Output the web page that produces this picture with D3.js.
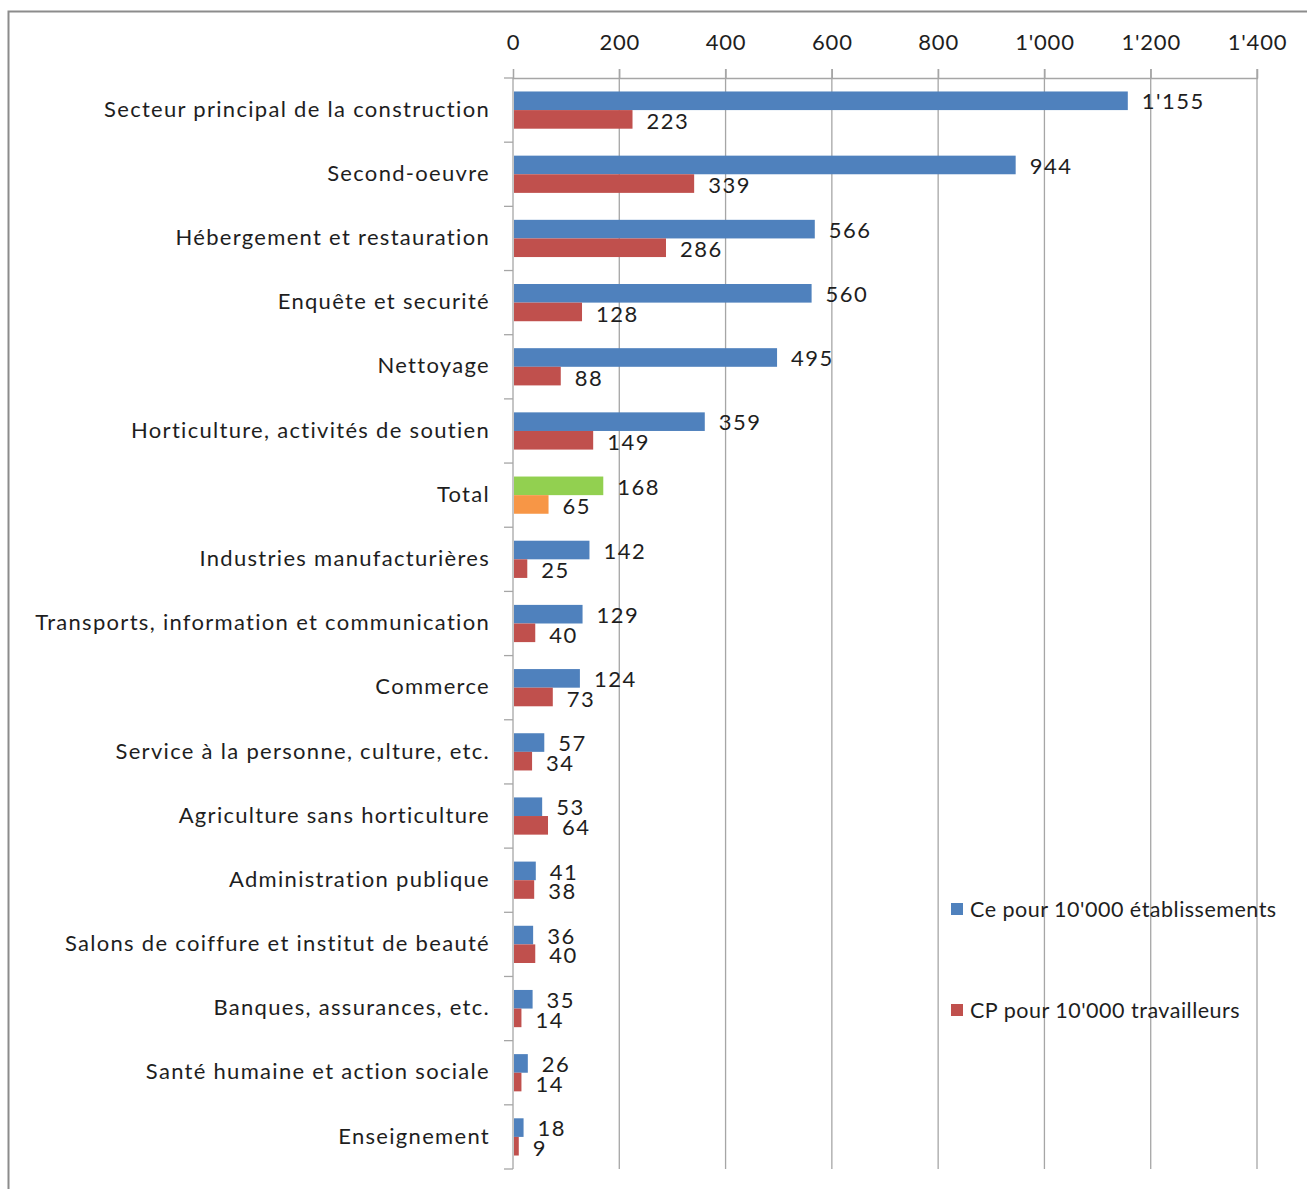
<!DOCTYPE html>
<html>
<head>
<meta charset="utf-8">
<script src="https://cdn.jsdelivr.net/npm/d3@7"></script>
<style>
  body { margin: 0; background: #fff; }
  text { font-family: Lato, "Open Sans", sans-serif; fill: #1e1e1e; }
</style>
</head>
<body>
<svg width="1307" height="1189"></svg>
<script>
var categories = ["Secteur principal de la construction", "Second-oeuvre", "Hébergement et restauration",
  "Enquête et securité", "Nettoyage", "Horticulture, activités de soutien", "Total",
  "Industries manufacturières", "Transports, information et communication", "Commerce",
  "Service à la personne, culture, etc.", "Agriculture sans horticulture", "Administration publique",
  "Salons de coiffure et institut de beauté", "Banques, assurances, etc.",
  "Santé humaine et action sociale", "Enseignement"];
var ceValues = [1155, 944, 566, 560, 495, 359, 168, 142, 129, 124, 57, 53, 41, 36, 35, 26, 18];
var cpValues = [223, 339, 286, 128, 88, 149, 65, 25, 40, 73, 34, 64, 38, 40, 14, 14, 9];
var xTicks = [0, 200, 400, 600, 800, 1000, 1200, 1400];
var seriesNames = ["Ce pour 10'000 établissements", "CP pour 10'000 travailleurs"];

var svg = d3.select("svg");
var plotLeft = 513, plotRight = 1257, plotTop = 78, plotBottom = 1169;

var fmt = d3.formatLocale({decimal: ".", thousands: "'", grouping: [3], currency: ["", ""]}).format(",d");

var x = d3.scaleLinear().domain([0, 1400]).range([plotLeft, plotRight]);
var y = d3.scaleBand().domain(categories).range([plotTop, plotBottom]).paddingInner(0.42).paddingOuter(0.21);
var sub = d3.scaleBand().domain([0, 1]).range([0, y.bandwidth()]);

// border
svg.append("rect").attr("x", 8.5).attr("y", 11.5).attr("width", 1330).attr("height", 1200)
  .attr("fill", "none").attr("stroke", "#8c8c8c").attr("stroke-width", 2);

// gridlines
svg.append("g").selectAll("line").data(xTicks.slice(1)).enter().append("line")
  .attr("x1", d => x(d)).attr("x2", d => x(d)).attr("y1", plotTop - 9).attr("y2", plotBottom)
  .attr("stroke", "#a6a6a6").attr("stroke-width", 1.3);

// top axis
var xAxis = d3.axisTop(x).tickValues(xTicks).tickSize(9).tickFormat(fmt);
var gx = svg.append("g").attr("transform", "translate(0," + plotTop + ")").call(xAxis);
gx.select(".domain").attr("stroke", "#a6a6a6").attr("stroke-width", 1.3);
gx.selectAll(".tick line").attr("stroke", "#a6a6a6").attr("stroke-width", 1.3);
gx.selectAll(".tick text").attr("font-size", 22).attr("font-family", "Lato").attr("fill", "#1e1e1e")
  .attr("y", -36).attr("dy", "0.35em").style("letter-spacing", "0.8px");

// left axis with ticks between categories
var bandEdges = categories.map(c => y(c) - y.step() * y.paddingInner() / 2).concat([plotBottom]);
svg.append("line").attr("x1", plotLeft).attr("x2", plotLeft).attr("y1", plotTop).attr("y2", plotBottom)
  .attr("stroke", "#a6a6a6").attr("stroke-width", 1.3);
svg.append("g").selectAll("line").data(bandEdges).enter().append("line")
  .attr("x1", plotLeft - 9).attr("x2", plotLeft).attr("y1", d => d).attr("y2", d => d)
  .attr("stroke", "#a6a6a6").attr("stroke-width", 1.3);

svg.append("g").selectAll("text").data(categories).enter().append("text")
  .attr("x", 490).attr("y", d => y(d) + y.bandwidth() / 2 - 1)
  .attr("dy", "0.35em").attr("text-anchor", "end").attr("font-size", 22)
  .style("letter-spacing", "1.3px")
  .text(d => d);

var colors = ["#4f81bd", "#c0504d"];
var totalColors = ["#92d050", "#f79646"];
var series = [ceValues, cpValues];

series.forEach(function(vals, s) {
  var g = svg.append("g");
  g.selectAll("rect").data(vals).enter().append("rect")
    .attr("x", x(0) + 1)
    .attr("y", (d, i) => y(categories[i]) + sub(s))
    .attr("width", d => x(d) - x(0))
    .attr("height", sub.bandwidth())
    .attr("fill", (d, i) => categories[i] === "Total" ? totalColors[s] : colors[s]);
  g.selectAll("text").data(vals).enter().append("text")
    .attr("x", d => x(d) + 15)
    .attr("y", (d, i) => y(categories[i]) + sub(s) + sub.bandwidth() / 2 + (s === 0 ? 1 : 2))
    .attr("dy", "0.35em").attr("font-size", 22)
    .style("letter-spacing", "1.5px")
    .text(d => fmt(d));
});

// legend
var legend = svg.append("g");
seriesNames.forEach(function(name, i) {
  var ly = [909, 1010][i];
  legend.append("rect").attr("x", 951).attr("y", ly - 6).attr("width", 12).attr("height", 12)
    .attr("fill", colors[i]);
  legend.append("text").attr("x", 970).attr("y", ly).attr("dy", "0.35em")
    .attr("font-size", 21.5).style("letter-spacing", "0.5px").text(name);
});
</script>
</body>
</html>
